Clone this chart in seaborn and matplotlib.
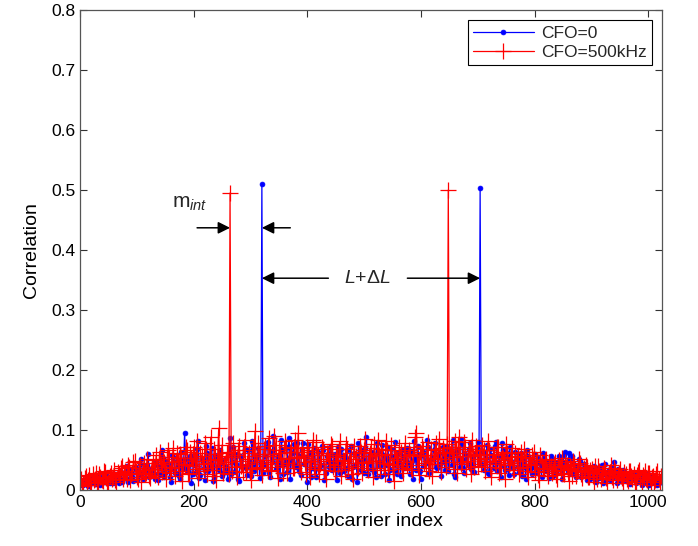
import numpy as np
import matplotlib
matplotlib.use("Agg")
import matplotlib.pyplot as plt
import seaborn as sns

# subcarrier index: carriers 0,4,8,... and the ones halfway between
subcarrier_a = np.arange(0, 1024, 4)
subcarrier_b = np.arange(2, 1024, 4)

# correlation, CFO = 0 (blue), at subcarrier_a
corr_cfo0_a = [
    .008, .015, .011, .019, .006, .013, .022, .010, .017, .009, .024, .014, .020, .012, .027, .016,
    .021, .011, .030, .018, .025, .014, .033, .022, .038, .016, .028, .052, .020, .035, .060, .024,
    .031, .019, .042, .026, .067, .022, .048, .035, .013, .055, .029, .040, .018, .050, .095, .033,
    .044, .012, .058, .030, .082, .025, .049, .016, .062, .038, .070, .021, .054, .034, .045, .028,
    .039, .018, .086, .047, .031, .060, .015, .052, .079, .036, .066, .024, .077, .043, .058, .020,
    .510, .041, .071, .028, .063, .090, .035, .055, .019, .067, .044, .030, .087, .050, .076, .038,
    .058, .025, .079, .046, .013, .062, .037, .070, .022, .053, .041, .066, .028, .048, .072, .033,
    .060, .017, .045, .069, .031, .054, .024, .074, .039, .058, .014, .049, .066, .029, .088, .043,
    .035, .057, .021, .064, .040, .075, .027, .052, .016, .068, .044, .032, .061, .023, .055, .038,
    .070, .026, .049, .081, .034, .058, .019, .063, .045, .071, .030, .054, .079, .036, .062, .024,
    .048, .073, .031, .057, .084, .022, .066, .039, .076, .028, .052, .069, .035, .044, .061, .080,
    .503, .042, .064, .075, .027, .058, .037, .080, .046, .021, .067, .033, .055, .072, .040, .026,
    .051, .030, .062, .038, .019, .056, .044, .027, .060, .035, .048, .022, .053, .031, .041, .057,
    .024, .046, .034, .052, .018, .058, .040, .062, .029, .045, .021, .038, .049, .026, .042, .016,
    .033, .021, .040, .014, .028, .036, .011, .043, .024, .017, .031, .046, .012, .026, .019, .034,
    .015, .023, .010, .028, .018, .013, .025, .009, .020, .016, .027, .011, .019, .014, .008, .017,
]

# correlation, CFO = 0 (blue), at subcarrier_b
corr_cfo0_b = [
    .014, .009, .018, .007, .021, .012, .016, .025, .010, .019, .013, .028, .015, .022, .011, .026,
    .017, .032, .013, .027, .040, .019, .029, .015, .036, .024, .044, .018, .031, .041, .022, .037,
    .026, .047, .016, .039, .053, .028, .044, .021, .058, .033, .049, .024, .063, .037, .052, .030,
    .057, .027, .041, .068, .020, .052, .036, .074, .031, .045, .015, .059, .040, .066, .023, .050,
    .034, .061, .026, .072, .043, .018, .057, .038, .069, .025, .048, .081, .032, .053, .070, .046,
    .029, .056, .080, .022, .047, .068, .036, .059, .084, .027, .050, .071, .018, .061, .042, .078,
    .032, .067, .044, .055, .076, .021, .049, .035, .063, .040, .074, .016, .057, .038, .060, .047,
    .042, .071, .028, .056, .037, .066, .050, .019, .062, .044, .079, .033, .052, .070, .026, .059,
    .063, .030, .078, .046, .024, .059, .041, .072, .033, .055, .080, .027, .048, .067, .036, .061,
    .045, .065, .018, .053, .074, .032, .058, .040, .083, .029, .051, .067, .038, .059, .044, .072,
    .033, .058, .069, .041, .027, .062, .050, .085, .036, .060, .043, .078, .055, .030, .071, .046,
    .061, .034, .053, .029, .068, .047, .073, .032, .056, .078, .040, .063, .025, .049, .036, .064,
    .038, .057, .024, .049, .066, .033, .052, .039, .028, .054, .043, .061, .037, .046, .020, .050,
    .043, .029, .056, .035, .047, .063, .032, .050, .056, .027, .040, .052, .022, .044, .031, .026,
    .018, .030, .025, .037, .020, .042, .027, .016, .034, .039, .022, .028, .035, .015, .030, .023,
    .021, .012, .019, .026, .011, .022, .017, .024, .013, .020, .009, .023, .015, .018, .012, .020,
]

# correlation, CFO = 500 kHz (red), at subcarrier_a
corr_cfo500_a = [
    .012, .007, .020, .014, .025, .009, .017, .028, .011, .021, .015, .030, .010, .024, .018, .033,
    .014, .027, .036, .019, .031, .042, .016, .028, .048, .022, .037, .013, .045, .029, .034, .020,
    .050, .025, .038, .064, .030, .046, .019, .055, .036, .070, .024, .049, .060, .015, .041, .066,
    .028, .054, .072, .035, .020, .061, .043, .078, .026, .050, .033, .068, .017, .103, .057, .029,
    .046, .064, .495, .032, .058, .021, .073, .040, .067, .030, .052, .016, .071, .098, .036, .060,
    .025, .069, .044, .087, .033, .056, .075, .020, .062, .041, .081, .028, .053, .070, .037, .064,
    .095, .030, .057, .046, .072, .022, .063, .038, .080, .027, .051, .068, .019, .059, .043, .074,
    .031, .055, .069, .024, .048, .077, .036, .061, .018, .052, .040, .073, .029, .066, .045, .057,
    .070, .021, .049, .083, .034, .058, .026, .067, .044, .075, .015, .053, .038, .064, .028, .078,
    .042, .060, .033, .071, .095, .025, .056, .068, .037, .080, .048, .023, .066, .051, .085, .030,
    .063, .039, .500, .072, .055, .082, .029, .061, .047, .080, .035, .068, .026, .057, .074, .040,
    .058, .075, .031, .049, .066, .022, .060, .043, .071, .036, .054, .018, .062, .045, .070, .033,
    .048, .026, .064, .039, .055, .021, .043, .058, .030, .050, .017, .046, .035, .052, .024, .040,
    .031, .047, .019, .038, .053, .027, .042, .015, .036, .048, .024, .033, .045, .020, .030, .039,
    .022, .035, .013, .029, .040, .018, .026, .033, .011, .030, .021, .037, .016, .028, .024, .012,
    .027, .015, .032, .019, .010, .025, .034, .013, .022, .018, .029, .009, .024, .016, .031, .014,
]

# correlation, CFO = 500 kHz (red), at subcarrier_b
corr_cfo500_b = [
    .018, .010, .023, .016, .012, .027, .019, .013, .026, .016, .031, .020, .014, .029, .022, .017,
    .030, .021, .040, .025, .018, .038, .027, .046, .031, .019, .042, .034, .026, .051, .023, .039,
    .035, .058, .022, .044, .052, .033, .067, .028, .047, .039, .061, .031, .054, .043, .072, .026,
    .063, .040, .048, .081, .031, .056, .037, .069, .045, .088, .024, .060, .052, .038, .075, .043,
    .062, .027, .055, .078, .039, .066, .049, .030, .084, .044, .061, .035, .057, .047, .079, .038,
    .050, .073, .031, .060, .046, .090, .038, .067, .052, .029, .071, .045, .063, .036, .084, .055,
    .041, .070, .054, .026, .066, .049, .083, .035, .058, .044, .071, .033, .062, .048, .077, .039,
    .059, .042, .081, .050, .034, .068, .045, .027, .074, .056, .037, .064, .047, .085, .033, .061,
    .048, .076, .037, .058, .069, .045, .081, .033, .060, .041, .066, .050, .072, .035, .056, .047,
    .067, .036, .058, .088, .041, .063, .074, .045, .059, .032, .069, .054, .078, .043, .062, .070,
    .051, .076, .047, .062, .035, .069, .088, .043, .057, .072, .049, .065, .084, .038, .060, .052,
    .044, .066, .053, .081, .038, .059, .047, .072, .028, .064, .050, .076, .041, .055, .033, .061,
    .057, .036, .049, .069, .031, .054, .042, .063, .047, .025, .058, .037, .050, .032, .047, .029,
    .044, .025, .050, .034, .029, .046, .035, .040, .023, .043, .031, .052, .027, .036, .042, .021,
    .033, .024, .040, .019, .031, .026, .037, .020, .029, .042, .017, .032, .025, .035, .020, .030,
    .019, .031, .023, .027, .013, .030, .018, .025, .032, .016, .028, .021, .014, .026, .019, .023,
]

x_ticks = [0, 200, 400, 600, 800, 1000]
y_ticks = [0, 0.1, 0.2, 0.3, 0.4, 0.5, 0.6, 0.7, 0.8]
y_tick_labels = ["0", "0.1", "0.2", "0.3", "0.4", "0.5", "0.6", "0.7", "0.8"]

sns.set_theme(style="white")
plt.rcParams["font.family"] = ["Liberation Sans", "DejaVu Sans"]
plt.rcParams["mathtext.fontset"] = "custom"
plt.rcParams["mathtext.rm"] = "Liberation Sans"
plt.rcParams["mathtext.it"] = "Liberation Sans:italic"

x_all = np.concatenate([subcarrier_a, subcarrier_b])
blue_all = np.concatenate([corr_cfo0_a, corr_cfo0_b])
red_all = np.concatenate([corr_cfo500_a, corr_cfo500_b])

fig = plt.figure(figsize=(6.98, 5.46), dpi=100)
ax = fig.add_axes([80 / 698, 56 / 546, 582 / 698, 480 / 546])

sns.lineplot(x=x_all, y=blue_all, ax=ax, color="#0000ff",
             linewidth=0.9, marker="o", markersize=3.5,
             markeredgecolor="#0000ff", markeredgewidth=0.5,
             label="CFO=0", estimator=None)
sns.lineplot(x=x_all, y=red_all, ax=ax, color="#ff0000",
             linewidth=0.9, marker="+", markersize=11,
             markeredgecolor="#ff0000", markeredgewidth=0.9,
             label="CFO=500kHz", estimator=None)

ax.set_xlim(0, 1024)
ax.set_ylim(0, 0.8)
ax.set_xticks(x_ticks)
ax.set_yticks(y_ticks)
ax.set_yticklabels(y_tick_labels)
ax.tick_params(direction="in", length=5, width=0.8, colors="#333333",
               labelcolor="black", labelsize=12.5,
               top=True, right=True, bottom=True, left=True)
for sp in ax.spines.values():
    sp.set_visible(True)
    sp.set_color("#555555")
    sp.set_linewidth(0.9)

ax.set_xlabel("Subcarrier index", fontsize=14, color="black", labelpad=2)
ax.set_ylabel("Correlation", fontsize=14, color="black", labelpad=8)

leg = ax.legend(loc="upper right", fontsize=12.5, frameon=True,
                fancybox=False, edgecolor="black", framealpha=1,
                handlelength=3.5, handletextpad=0.4, borderaxespad=0.6,
                borderpad=0.3, labelspacing=0.25)
leg.get_frame().set_linewidth(0.8)

# annotations
arrow = dict(arrowstyle="-|>", color="black", lw=1.1,
             mutation_scale=18, shrinkA=0, shrinkB=0)
ax.annotate("", xy=(264, 0.437), xytext=(206, 0.437), arrowprops=arrow)
ax.annotate("", xy=(320, 0.437), xytext=(370, 0.437), arrowprops=arrow)
ax.annotate("", xy=(320, 0.353), xytext=(437, 0.353), arrowprops=arrow)
ax.annotate("", xy=(704, 0.353), xytext=(576, 0.353), arrowprops=arrow)
ax.text(193, 0.478, r"m$_{int}$", fontsize=15, ha="center", va="center")
ax.text(505, 0.353, r"$L$+Δ$L$", fontsize=14, ha="center", va="center")

plt.savefig("out.png", dpi=100)
plt.close()
